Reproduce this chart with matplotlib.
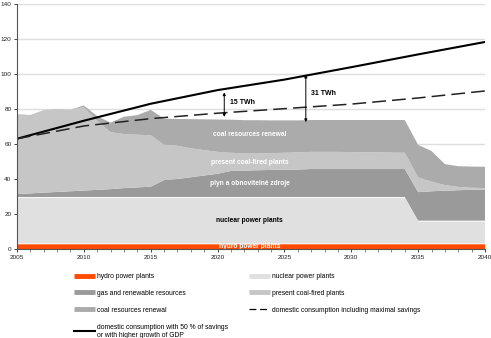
import matplotlib
matplotlib.use("Agg")
import matplotlib.pyplot as plt
from matplotlib.lines import Line2D

plt.rcParams['font.family'] = ['Liberation Sans', 'DejaVu Sans']

years = list(range(2005, 2041))

# layer thicknesses (TWh), bottom to top
hydro = [3.2] * 36
nuclear = [26.5] * 30 + [13.0] * 6
gas = [1.7, 2.1, 2.5, 2.9, 3.3, 3.7, 4.1, 4.5, 5.1, 5.5, 5.9, 9.7, 10.3, 11.3, 12.3, 13.3,
       14.9, 15.1, 15.3, 15.5, 15.6, 15.7, 16.0, 16.0, 16.0, 16.0, 16.0, 16.0, 16.0, 16.0,
       16.3, 16.8, 17.1, 17.4, 17.6, 17.8]
present_coal = [45.7, 44.8, 47.2, 47.4, 46.6, 47.6, 39.5, 32.5, 30.9, 30.1, 29.4, 20.2,
                19.0, 16.5, 14.5, 12.5, 10.4, 9.8, 9.6, 9.6, 9.7, 9.8, 9.8, 9.8, 9.8, 9.7,
                9.6, 9.5, 9.4, 9.3, 8.5, 5.5, 3.2, 1.9, 1.2, 0.8]
coal_renewal = [0, 0, 0, 0, 0, 1.0, 2.6, 5.5, 9.9, 11.2, 14.5, 14.9, 15.3, 16.7, 17.6, 18.5,
                18.9, 19.0, 19.0, 18.7, 18.5, 18.3, 18.2, 18.2, 18.2, 18.3, 18.4, 18.5, 18.6,
                18.7, 18.5, 17.5, 12.0, 11.8, 12.1, 12.2]

# consumption lines
line_years = [2005, 2010, 2015, 2020, 2025, 2030, 2035, 2040]
cons_50 = [63, 73.3, 83, 90.8, 96.8, 103.9, 111.2, 118.3]
cons_max = [63, 70.3, 74.5, 77.6, 80.2, 82.8, 86.3, 90.3]

colors = ['#ff4a00', '#e0e0e0', '#9a9a9a', '#c6c6c6', '#ababab']
labels = ['hydro power plants', 'nuclear power plants', 'gas and renewable resources',
          'present coal-fired plants', 'coal resources renewal']

fig = plt.figure(figsize=(4.91, 3.38), dpi=100)
ax = fig.add_axes([17 / 491, 89 / 338, 468 / 491, 245 / 338])

polys = ax.stackplot(years, hydro, nuclear, gas, present_coal, coal_renewal,
                     colors=colors, linewidth=0, zorder=2)
polys[0].set_edgecolor('white')
polys[0].set_linewidth(0.6)
polys[1].set_edgecolor('white')
polys[1].set_linewidth(0.6)

ax.plot(line_years, cons_50, color='black', lw=1.5, zorder=4)
ax.plot(line_years, cons_max, color='#222222', lw=1.1, dashes=(9, 4), zorder=4)

# arrows with differences
arr = dict(arrowstyle='<|-|>', lw=0.7, color='black', mutation_scale=4,
           shrinkA=0, shrinkB=0)
ax.annotate('', xy=(2020.5, 75.5), xytext=(2020.5, 89.5), arrowprops=arr, zorder=5)
ax.annotate('', xy=(2026.6, 72.5), xytext=(2026.6, 99.6), arrowprops=arr, zorder=5)
ax.text(2020.9, 84, '15 TWh', fontsize=5, fontweight='bold', va='center', zorder=5)
ax.text(2027.0, 88.6, '31 TWh', fontsize=5, fontweight='bold', va='center', zorder=5)

# labels inside the stack
xc = 2022.4
kw = dict(fontsize=4.8, fontweight='bold', ha='center', va='center', zorder=5)
ax.text(xc, 65.7, 'coal resources renewal', color='white', **kw)
ax.text(xc, 49.5, 'present coal-fired plants', color='white', **kw)
ax.text(xc, 37.5, 'plyn a obnovitelné zdroje', color='white', **kw)
ax.text(xc, 16.5, 'nuclear power plants', color='black', **kw)
ax.text(xc, 1.4, 'hydro power plants', color='white', **kw)

ax.set_xlim(2005, 2040)
ax.set_ylim(0, 140)
ax.set_yticks(range(0, 141, 20))
ax.set_xticks(range(2005, 2041, 5))
ax.set_xticks(years, minor=True)
ax.grid(axis='y', color='#dedede', lw=1, zorder=0)
ax.set_axisbelow(True)
for s in ['top', 'right']:
    ax.spines[s].set_visible(False)
for s in ['left', 'bottom']:
    ax.spines[s].set_color('#555555')
    ax.spines[s].set_linewidth(0.8)
    ax.spines[s].set_zorder(6)
ax.tick_params(axis='both', labelsize=4.6, colors='#222222', length=2, width=0.6, pad=2)
ax.tick_params(axis='x', which='minor', length=2, width=0.5, colors='#555555')

handles = [
    Line2D([], [], color=colors[0], lw=3.5, solid_capstyle='butt'),
    Line2D([], [], color=colors[2], lw=3.5, solid_capstyle='butt'),
    Line2D([], [], color=colors[4], lw=3.5, solid_capstyle='butt'),
    Line2D([], [], color='black', lw=1.5),
    Line2D([], [], color=colors[1], lw=3.5, solid_capstyle='butt'),
    Line2D([], [], color=colors[3], lw=3.5, solid_capstyle='butt'),
    Line2D([], [], color='black', lw=0.9, dashes=(5.5, 3)),
]
leg_labels = [labels[0], labels[2], labels[4],
              'domestic consumption with 50 % of savings\nor with higher growth of GDP',
              labels[1], labels[3], 'domestic consumption including maximal savings']
fig.legend(handles, leg_labels, loc='upper left', bbox_to_anchor=(74 / 491, 1 - 273 / 338),
           ncol=2, frameon=False, fontsize=4.9, handlelength=3.1, handletextpad=0.3,
           columnspacing=3.1, labelspacing=1.45, borderpad=0, borderaxespad=0)

fig.savefig('out.png', dpi=100)
